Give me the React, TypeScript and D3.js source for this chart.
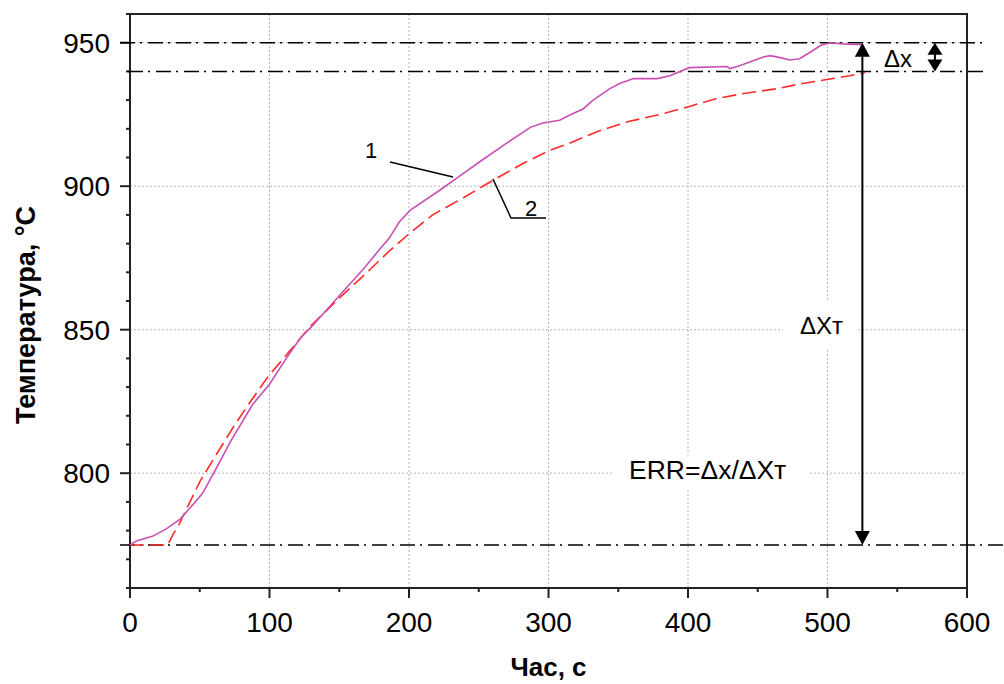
import { useEffect, useRef } from 'react';
import * as d3 from 'd3';

// curve 1 (measured, magenta)
const time1 = [0, 5, 16, 26, 36, 45, 52, 60, 72, 88, 100, 112, 122, 130, 143, 154, 167, 179, 186, 193, 201, 222, 237, 251, 270, 287, 296, 308, 315, 325, 332, 344, 351, 361, 378, 387, 401, 428, 430, 437, 454, 459, 466, 473, 480, 487, 495, 502, 511, 525];
const temp1 = [775, 776.5, 778, 780.6, 784, 789, 793, 800, 811, 824, 831, 840, 847, 851, 858, 864, 871, 878, 882, 887.5, 891.7, 898.6, 903.8, 908.6, 915, 920.5, 922, 923, 924.7, 927, 930, 934, 935.8, 937.5, 937.5, 938.5, 941.3, 941.7, 941, 942, 945, 945.5, 944.8, 944, 944.4, 946.5, 949, 950, 949.6, 949.3];

// curve 2 (model, red dashed)
const time2 = [0, 27, 31, 35, 38, 43, 50, 62, 74, 85, 99, 116, 129, 150, 170, 185, 199, 217, 239, 260, 282, 301, 315, 337, 358, 380, 401, 420, 440, 464, 482, 504, 516, 527];
const temp2 = [775, 775, 778.8, 782, 785, 790, 797, 806.6, 816, 824, 833.7, 843.4, 851, 861, 870, 877, 883, 890, 896, 902, 908, 912.5, 915, 919.4, 922.6, 925, 927.8, 930.5, 932.3, 934, 935.8, 937.5, 938.5, 939.6];

const xTicks = [0, 100, 200, 300, 400, 500, 600];
const yTicks = [800, 850, 900, 950];

// reference levels
const levelTop = 950;
const levelMid = 940;
const levelStart = 775;

const App = () => {
    const ref = useRef<SVGSVGElement>(null);

    const width = 1004, height = 684;
    const margin = { top: 14, right: 37, bottom: 96, left: 130 };
    const w = width - margin.left - margin.right;
    const h = height - margin.top - margin.bottom;

    useEffect(() => {
        const svg = d3.select(ref.current);
        svg.selectAll('*').remove();

        const font = "'Liberation Sans', Arial, sans-serif";
        const x = d3.scaleLinear().domain([0, 600]).range([margin.left, margin.left + w]);
        const y = d3.scaleLinear().domain([760, 960]).range([margin.top + h, margin.top]);

        // grid
        const grid = svg.append('g').attr('stroke', '#b4b4b4').attr('stroke-dasharray', '2,2').attr('stroke-width', 1);
        xTicks.slice(1, -1).forEach(t => {
            grid.append('line').attr('x1', x(t)).attr('x2', x(t)).attr('y1', margin.top).attr('y2', margin.top + h);
        });
        yTicks.forEach(t => {
            grid.append('line').attr('x1', margin.left).attr('x2', margin.left + w).attr('y1', y(t)).attr('y2', y(t));
        });

        // white boxes behind annotation text
        svg.append('rect').attr('x', 612).attr('y', 455).attr('width', 196).attr('height', 34).attr('fill', '#fff');
        svg.append('rect').attr('x', 783).attr('y', 300).attr('width', 74).attr('height', 50).attr('fill', '#fff');

        // frame
        svg.append('rect')
            .attr('x', margin.left).attr('y', margin.top).attr('width', w).attr('height', h)
            .attr('fill', 'none').attr('stroke', '#222').attr('stroke-width', 2);

        // y ticks
        d3.range(760, 961, 10).forEach(v => {
            const major = v % 50 === 0;
            svg.append('line')
                .attr('x1', margin.left - (major ? 10 : 4)).attr('x2', margin.left)
                .attr('y1', y(v)).attr('y2', y(v))
                .attr('stroke', '#222').attr('stroke-width', 2);
        });
        yTicks.forEach(v => {
            svg.append('text').attr('x', 110).attr('y', y(v)).attr('dy', '0.36em')
                .attr('text-anchor', 'end').attr('font-family', font).attr('font-size', 28)
                .text(v);
        });

        // x ticks
        d3.range(0, 601, 50).forEach(v => {
            const major = v % 100 === 0;
            svg.append('line')
                .attr('x1', x(v)).attr('x2', x(v))
                .attr('y1', margin.top + h).attr('y2', margin.top + h + (major ? 10 : 4))
                .attr('stroke', '#222').attr('stroke-width', 2);
        });
        xTicks.forEach(v => {
            svg.append('text').attr('x', x(v)).attr('y', 632)
                .attr('text-anchor', 'middle').attr('font-family', font).attr('font-size', 28)
                .text(v);
        });

        // axis titles
        svg.append('text').attr('x', margin.left + w / 2).attr('y', 676)
            .attr('text-anchor', 'middle').attr('font-family', font).attr('font-size', 26).attr('font-weight', 'bold')
            .text('Час, с');
        svg.append('text').attr('transform', `translate(35,${margin.top + h / 2 + 14}) rotate(-90)`)
            .attr('text-anchor', 'middle').attr('font-family', font).attr('font-size', 27).attr('font-weight', 'bold')
            .text('Температура, °C');

        // dash-dot reference lines
        const dd = '15,5,2,6';
        [[levelTop, 120, 984], [levelMid, 128, 988], [levelStart, 120, 1004]].forEach(([lv, a, b]) => {
            svg.append('line').attr('x1', a).attr('x2', b).attr('y1', y(lv)).attr('y2', y(lv))
                .attr('stroke', '#000').attr('stroke-width', 1.5).attr('stroke-dasharray', dd);
        });

        // curves
        const line = d3.line<[number, number]>().x(d => x(d[0])).y(d => y(d[1]));
        const d2 = time2.map((t, i) => [t, temp2[i]] as [number, number]);
        const d1 = time1.map((t, i) => [t, temp1[i]] as [number, number]);
        svg.append('path').attr('d', line(d2)).attr('fill', 'none')
            .attr('stroke', '#ff2a2a').attr('stroke-width', 1.6).attr('stroke-dasharray', '14,6');
        svg.append('path').attr('d', line(d1)).attr('fill', 'none')
            .attr('stroke', '#c94fb5').attr('stroke-width', 1.6);

        // arrows
        const head = (cx: number, tipY: number, dir: number, hw: number, hl: number) => {
            svg.append('path')
                .attr('d', `M${cx},${tipY} L${cx - hw / 2},${tipY + dir * hl} L${cx + hw / 2},${tipY + dir * hl} Z`)
                .attr('fill', '#000');
        };
        const ax = x(525);
        svg.append('line').attr('x1', ax).attr('x2', ax).attr('y1', y(levelTop) + 6).attr('y2', y(levelStart) - 6)
            .attr('stroke', '#000').attr('stroke-width', 2);
        head(ax, y(levelTop), 1, 15, 14);
        head(ax, y(levelStart), -1, 15, 14);

        const bx = x(577);
        svg.append('line').attr('x1', bx).attr('x2', bx).attr('y1', y(levelTop) + 4).attr('y2', y(levelMid) - 4)
            .attr('stroke', '#000').attr('stroke-width', 2);
        head(bx, y(levelTop), 1, 15, 12);
        head(bx, y(levelMid), -1, 15, 12);

        // annotation text
        const ann = (tx: number, ty: number, s: string, size: number) =>
            svg.append('text').attr('x', tx).attr('y', ty).attr('font-family', font).attr('font-size', size).text(s);
        ann(884, 67, 'Δx', 24);
        ann(800, 334, 'ΔXт', 24);
        ann(629, 479, 'ERR=Δx/ΔXт', 26.5);
        ann(365, 158, '1', 22);
        ann(525, 216, '2', 22);

        // leader lines
        svg.append('path').attr('d', 'M390,162 L453,177').attr('fill', 'none').attr('stroke', '#000').attr('stroke-width', 1.5);
        svg.append('path').attr('d', 'M493,179 L511,218 L546,218').attr('fill', 'none').attr('stroke', '#000').attr('stroke-width', 1.5);
    }, []);

    return (
        <svg ref={ref} width={width} height={height}
            style={{ position: 'absolute', left: 0, top: 0, background: '#fff' }} />
    );
};

export default App;
